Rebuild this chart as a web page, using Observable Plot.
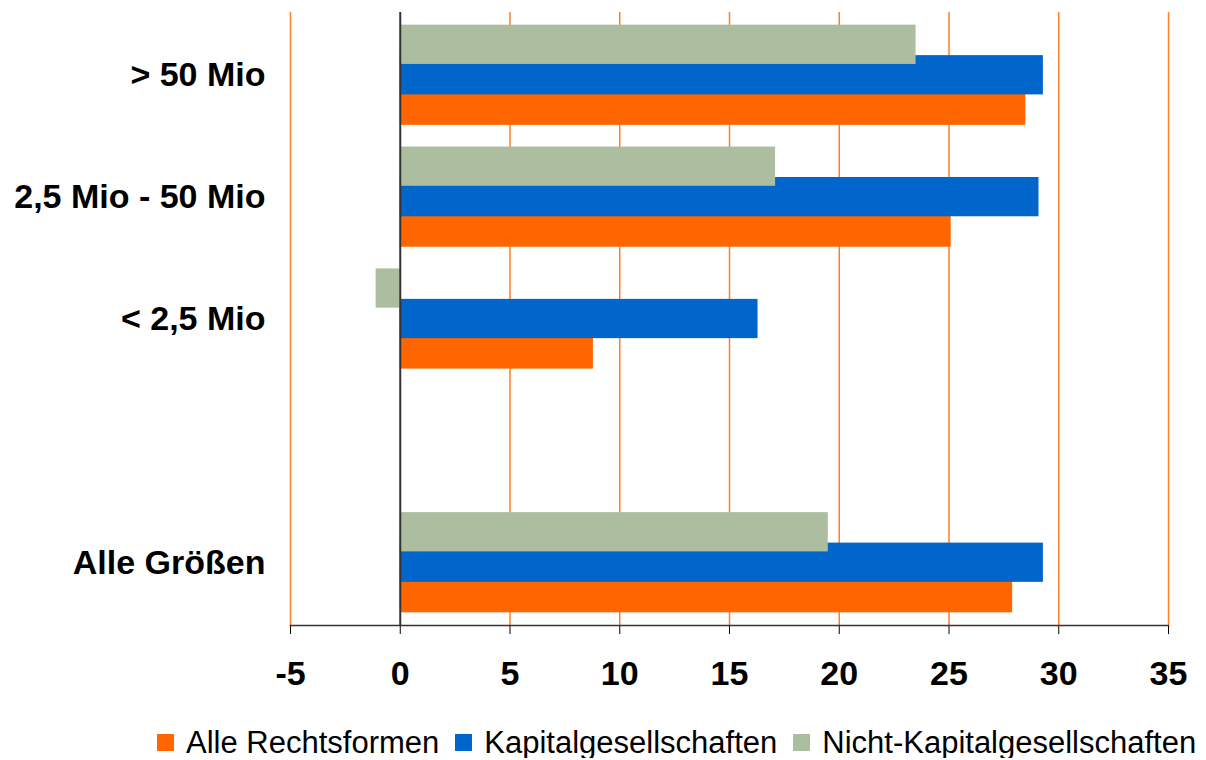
<!DOCTYPE html>
<html><head><meta charset="utf-8">
<script src="https://cdn.jsdelivr.net/npm/d3@7"></script>
<script src="https://cdn.jsdelivr.net/npm/@observablehq/plot@0.6"></script>
<style>
body{margin:0;background:#fff;font-family:"Liberation Sans",Arial,sans-serif;}
#legend{display:flex;align-items:center;margin-left:157px;padding-top:27px;height:31px;font-size:31px;line-height:31px;color:#000;white-space:nowrap}
.item{display:flex;align-items:center;margin-right:16px}
.sw{width:17px;height:17px;margin-right:12px}
</style></head><body><div id="chart"></div><div id="legend"></div>
<script>
const categories = ["> 50 Mio", "2,5 Mio - 50 Mio", "< 2,5 Mio", "", "Alle Größen"];
const series = ["Alle Rechtsformen", "Kapitalgesellschaften", "Nicht-Kapitalgesellschaften"];
const alleRechtsformen = [28.5, 25.1, 8.8, null, 27.9];
const kapitalgesellschaften = [29.3, 29.1, 16.3, null, 29.3];
const nichtKapitalgesellschaften = [23.5, 17.1, -1.1, null, 19.5];
const xTicks = [-5, 0, 5, 10, 15, 20, 25, 30, 35];
const colors = ["#FF6600", "#0066CC", "#ADBEA0"];

const seriesValues = [alleRechtsformen, kapitalgesellschaften, nichtKapitalgesellschaften];

// band keys: top-to-bottom Nicht, Kapital, Alle, then a spacer band between groups
const yDomain = [];
const labelKeys = [];
categories.forEach((c, i) => {
  yDomain.push(`${i}|2`, `${i}|1`, `${i}|0`);
  labelKeys.push(`${i}|1`);
  if (i < categories.length - 1) yDomain.push(`${i}|gap`);
});

// draw order: Alle first, then Kapital, then Nicht (later ones drawn on top)
const rows = [];
categories.forEach((c, i) => {
  [0, 1, 2].forEach(s => {
    const v = seriesValues[s][i];
    if (v != null) rows.push({key: `${i}|${s}`, value: v, series: series[s]});
  });
});

const chart = Plot.plot({
  width: 1206, height: 700,
  marginLeft: 290, marginRight: 38, marginTop: 12, marginBottom: 75,
  style: {fontFamily: "Liberation Sans, Arial, sans-serif", fontSize: "34px", fontWeight: "bold", color: "#000", background: "#fff"},
  x: {domain: [-5, 35], ticks: xTicks, tickSize: 9, tickPadding: 26, tickFormat: d => `${d}`, label: null},
  y: {domain: yDomain, round: false, paddingInner: 0, paddingOuter: 0.56, ticks: labelKeys,
      tickFormat: k => k.endsWith("|1") ? categories[+k.split("|")[0]] : "",
      tickSize: 0, tickPadding: 25, label: null},
  color: {domain: series, range: colors},
  marks: [
    Plot.ruleX(xTicks.filter(t => t !== 0), {stroke: "#FF7F2A", strokeWidth: 1.5}),
    Plot.barX(rows, {y: "key", x: "value", fill: "series", insetTop: -4.4, insetBottom: -4.4}),
    Plot.ruleX([0], {stroke: "#333", strokeWidth: 2}),
    Plot.frame({anchor: "bottom", stroke: "#333", strokeWidth: 1.5})
  ]
});
document.getElementById("chart").appendChild(chart);

const legend = document.getElementById("legend");
series.forEach((s, i) => {
  const item = document.createElement("div");
  item.className = "item";
  const sw = document.createElement("div");
  sw.className = "sw";
  sw.style.background = colors[i];
  const t = document.createElement("span");
  t.textContent = s;
  item.appendChild(sw); item.appendChild(t);
  legend.appendChild(item);
});
</script></body></html>
